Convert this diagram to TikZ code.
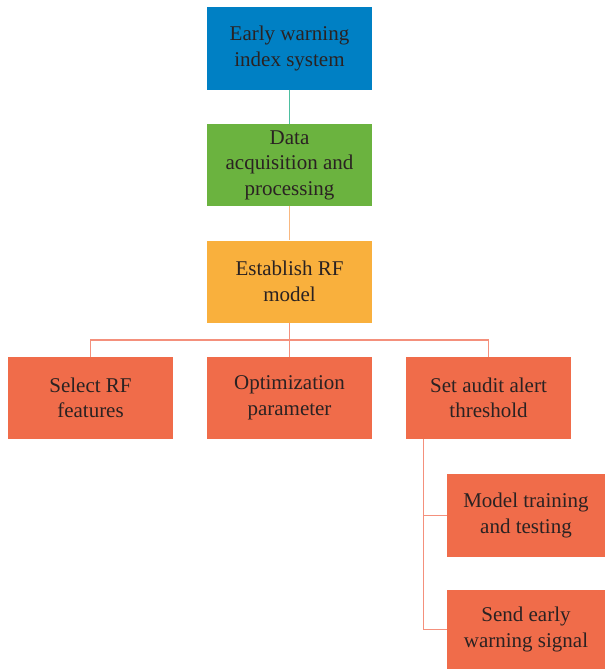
\documentclass[tikz,border=0pt]{standalone}
\usepackage{fontspec}
\setmainfont{Liberation Serif}
\definecolor{cblue}{HTML}{0080C4}
\definecolor{cgreen}{HTML}{6BB33F}
\definecolor{cyellow}{HTML}{F9B03D}
\definecolor{cred}{HTML}{F06C4A}
\definecolor{lteal}{HTML}{4DBFA0}
\definecolor{lorange}{HTML}{F9B880}
\definecolor{lsalmon}{HTML}{F4907C}
\definecolor{ctext}{HTML}{2A2222}
\tikzset{
  box/.style={rectangle, inner sep=0pt, minimum width=165pt, minimum height=82pt,
    align=center, text=ctext, font=\fontsize{21}{25.5}\selectfont},
  link/.style={line width=1.7pt}
}
\begin{document}
\begin{tikzpicture}[x=1pt,y=-1pt]
\useasboundingbox (0,0) rectangle (605,669);
\node[box, fill=cblue] (b1) at (289.5,48.5) {Early warning\\index system};
\node[box, fill=cgreen] (b2) at (289.5,165) {Data\\acquisition and\\processing};
\node[box, fill=cyellow] (b3) at (289.5,281.5) {Establish RF\\model};
\node[box, fill=cred] (r1) at (90.5,398) {Select RF\\features};
\node[box, fill=cred] (r2) at (289.5,398) {Optimization\\parameter};
\node[box, fill=cred] (r3) at (488.5,398) {Set audit alert\\threshold};
\node[box, fill=cred, minimum width=158pt, minimum height=83pt] (m1) at (526,515.5) {Model training\\and testing};
\node[box, fill=cred, minimum width=158pt, minimum height=79pt] (m2) at (526,629.5) {Send early\\warning signal};
\coordinate (v) at (423.5,439);
\draw[link, lteal] (b1.south) -- (b2.north);
\draw[link, lorange] (b2.south) -- (b3.north);
\draw[link, lsalmon] (b3.south) -- (r2.north);
\draw[link, lsalmon] (r1.north) -- ++(0,-17) -| (r3.north);
\draw[link, lsalmon] (v) |- (m1.west);
\draw[link, lsalmon] (v) |- (m2.west);
\end{tikzpicture}
\end{document}
